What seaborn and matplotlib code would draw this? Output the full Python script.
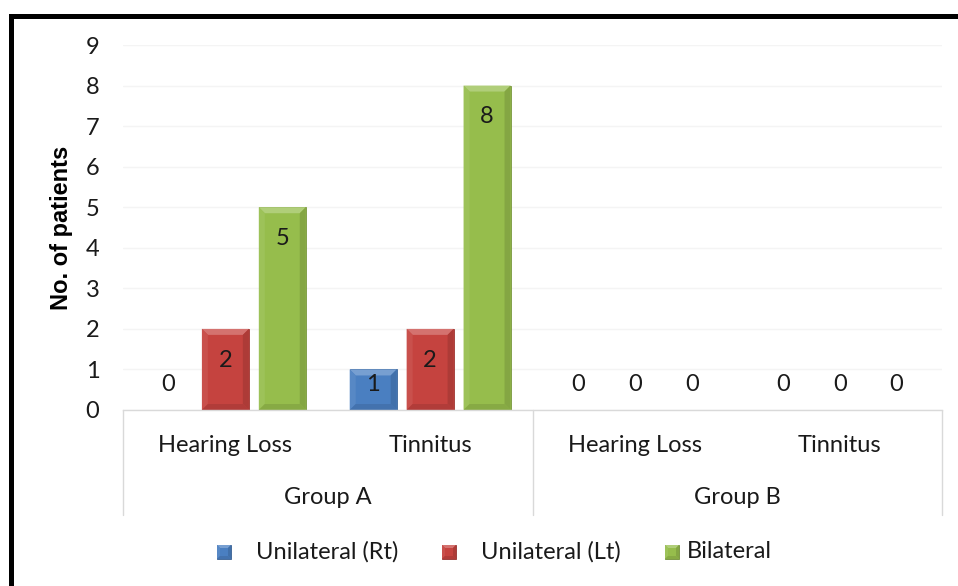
import numpy as np
import pandas as pd
import matplotlib
matplotlib.use("Agg")
import matplotlib.pyplot as plt
import seaborn as sns
import matplotlib.colors as mcolors
import matplotlib.transforms as mtransforms
from matplotlib.patches import Polygon, Rectangle
from matplotlib.lines import Line2D

# --- data ---------------------------------------------------------------
groups = ["Group A", "Group A", "Group B", "Group B"]
conditions = ["Hearing Loss", "Tinnitus", "Hearing Loss", "Tinnitus"]
series = ["Unilateral (Rt)", "Unilateral (Lt)", "Bilateral"]
unilateral_rt = [0, 1, 0, 0]
unilateral_lt = [2, 2, 0, 0]
bilateral = [5, 8, 0, 0]
y_ticks = list(range(0, 10))

colors = ["#4a7fc1", "#c5433f", "#96bd4c"]
text_color = "#1a1a1a"
axis_gray = "#d9d9d9"
FS = 17

keys = [f"{g}|{c}" for g, c in zip(groups, conditions)]
values = [unilateral_rt, unilateral_lt, bilateral]
df = pd.DataFrame({
    "key": keys * 3,
    "series": np.repeat(series, len(keys)),
    "count": unilateral_rt + unilateral_lt + bilateral,
})

sns.set_theme(style="white")
plt.rcParams["font.family"] = ["Lato", "DejaVu Sans"]

W, H = 958, 586
fig = plt.figure(figsize=(W / 100, H / 100), dpi=100)
fig.patch.set_facecolor("white")

ax_left, ax_right, ax_bottom, ax_top = 123, 942, 410, 45
ax = fig.add_axes([ax_left / W, 1 - ax_bottom / H,
                   (ax_right - ax_left) / W, (ax_bottom - ax_top) / H])

sns.barplot(data=df, x="key", y="count", hue="series", order=keys,
            hue_order=series, palette=colors, saturation=1,
            width=0.834, gap=0.175, legend=False, ax=ax,
            edgecolor="none", linewidth=0, err_kws={"linewidth": 0})

ax.set_xlim(-0.5, len(keys) - 0.5)
ax.set_ylim(0, 9)
ax.set_yticks(y_ticks)
ax.set_yticklabels([str(t) for t in y_ticks], fontsize=FS, color=text_color)
ax.tick_params(axis="y", length=0, pad=17)
ax.set_xticks([])
ax.set_xlabel("")
ax.set_ylabel("")
ax.yaxis.grid(True, color="#f4f4f4", linewidth=1)
ax.set_axisbelow(True)
for side in ["top", "right", "left"]:
    ax.spines[side].set_visible(False)
ax.spines["bottom"].set_color(axis_gray)
ax.spines["bottom"].set_linewidth(1)


def shade(c, f):
    r, g, b = mcolors.to_rgb(c)
    if f >= 0:
        return (r + (1 - r) * f, g + (1 - g) * f, b + (1 - b) * f)
    return (r * (1 + f), g * (1 + f), b * (1 + f))


def bevel(target, x0, y0, w, h, bx, by, col, transform, z):
    """Overlay soft bevel faces on a rectangle."""
    x1, y1 = x0 + w, y0 + h
    faces = [
        ([(x0, y1), (x1, y1), (x1 - bx, y1 - by), (x0 + bx, y1 - by)], shade(col, 0.25)),
        ([(x0, y0), (x0, y1), (x0 + bx, y1 - by), (x0 + bx, y0 + by)], shade(col, 0.07)),
        ([(x1, y0), (x1, y1), (x1 - bx, y1 - by), (x1 - bx, y0 + by)], shade(col, -0.12)),
        ([(x0, y0), (x1, y0), (x1 - bx, y0 + by), (x0 + bx, y0 + by)], shade(col, -0.1)),
    ]
    for pts, fc in faces:
        target.add_artist(Polygon(pts, closed=True, facecolor=fc, edgecolor="none",
                                  transform=transform, zorder=z))


# bevelled bar faces and value labels
px_per_x = (ax_right - ax_left) / len(keys)
px_per_y = (ax_bottom - ax_top) / 9
bx, by = 6 / px_per_x, 6 / px_per_y

for cont, col, vals in zip(ax.containers, colors, values):
    for bar, v in zip(cont, vals):
        x0, w, h = bar.get_x(), bar.get_width(), bar.get_height()
        xc = x0 + w / 2
        if h > 0:
            bar.set_edgecolor(shade(col, -0.2))
            bar.set_linewidth(0.6)
            bevel(ax, x0, 0, w, h, bx, by, col, ax.transData, bar.get_zorder() + 0.1)
        ax.text(xc, max(v - 0.77, 0.62), f"{v:g}", ha="center", va="center",
                fontsize=FS, color=text_color, zorder=5)

# two-level category axis
blend = mtransforms.blended_transform_factory(ax.transData, ax.transAxes)
sep_bottom = -(515 - ax_bottom) / (ax_bottom - ax_top)
for xs in [-0.5, 1.5, 3.5]:
    ax.add_line(Line2D([xs, xs], [0, sep_bottom], transform=blend,
                       color=axis_gray, linewidth=1, clip_on=False))
cond_y = -(446 - ax_bottom) / (ax_bottom - ax_top)
grp_y = -(497 - ax_bottom) / (ax_bottom - ax_top)
for i, c in enumerate(conditions):
    ax.text(i, cond_y, c, transform=blend, ha="center", va="center",
            fontsize=FS, color=text_color)
seen = []
for g in groups:
    if g not in seen:
        seen.append(g)
for g in seen:
    idx = [i for i, gg in enumerate(groups) if gg == g]
    ax.text(np.mean(idx), grp_y, g, transform=blend, ha="center",
            va="center", fontsize=FS, color=text_color)

fig.text(62 / W, 1 - 228 / H, "No. of patients", rotation=90, ha="center",
         va="center", fontsize=17, fontweight="bold",
         family=["Liberation Sans", "DejaVu Sans"], color="black")

# legend: bevelled swatches followed by series names (pixel layout)
px = mtransforms.Affine2D().scale(1 / W, 1 / H) + fig.transFigure
swatch_x = [217, 442, 665]
label_x = [256, 481, 687]
sw, leg_y = 14, H - 552
for sx, lx, col, name in zip(swatch_x, label_x, colors, series):
    fig.add_artist(Rectangle((sx, leg_y - sw / 2), sw, sw, facecolor=col,
                             edgecolor=shade(col, -0.25), linewidth=0.6,
                             transform=px, zorder=3))
    bevel(fig, sx, leg_y - sw / 2, sw, sw, 3, 3, col, px, 4)
    fig.text(lx / W, (H - 552) / H, name, ha="left", va="center",
             fontsize=FS, color=text_color)

# outer frame
fig.add_artist(Line2D([10.5 / W, 10.5 / W], [-0.1, 1 - 15.5 / H],
                      transform=fig.transFigure, color="black", linewidth=3.6,
                      solid_capstyle="projecting"))
fig.add_artist(Line2D([10.5 / W, 1.1], [1 - 15.5 / H, 1 - 15.5 / H],
                      transform=fig.transFigure, color="black", linewidth=3.6,
                      solid_capstyle="projecting"))

fig.savefig("out.png", dpi=100, facecolor="white")
